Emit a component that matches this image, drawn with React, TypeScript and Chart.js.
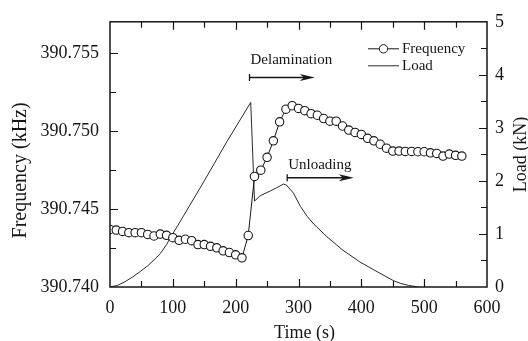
import React, { useEffect, useRef } from "react";
import { Chart, registerables } from "chart.js";

Chart.register(...registerables);

// Resonant frequency sampled every 10 s
const times = [
  0, 10, 20, 30, 40, 50, 60, 70, 80, 90, 100, 110, 120, 130, 140, 150, 160, 170, 180, 190,
  200, 210, 220, 230, 240, 250, 260, 270, 280, 290, 300, 310, 320, 330, 340, 350, 360, 370,
  380, 390, 400, 410, 420, 430, 440, 450, 460, 470, 480, 490, 500, 510, 520, 530, 540, 550, 560,
];
const frequencyKHz = [
  390.74369, 390.74365, 390.74356, 390.74348, 390.74348, 390.74348, 390.74337, 390.74327,
  390.74339, 390.74331, 390.74316, 390.74299, 390.74306, 390.74297, 390.74272, 390.74272,
  390.74261, 390.74251, 390.74232, 390.74221, 390.74206, 390.74187, 390.7433, 390.74709,
  390.74749, 390.74831, 390.74937, 390.75059, 390.7514, 390.75162, 390.75145, 390.7513,
  390.75111, 390.75101, 390.7508, 390.75063, 390.75063, 390.75032, 390.75006, 390.74991,
  390.74978, 390.74953, 390.74937, 390.74915, 390.7489, 390.74871, 390.74871, 390.74869,
  390.74869, 390.74867, 390.74867, 390.7486, 390.74856, 390.74839, 390.74852, 390.74844,
  390.74839,
];

// Applied load history
const loadTimes = [
  0, 12, 24, 36, 48, 60, 70, 80, 90, 98, 108, 117, 150, 186, 224, 230, 239, 255, 265, 276,
  281, 292, 303, 314, 324, 345, 371, 398, 425, 451, 462, 475, 488, 492,
];
const loadKN = [
  0, 0.03, 0.1, 0.19, 0.29, 0.4, 0.51, 0.63, 0.8, 0.97, 1.16, 1.34, 2.0, 2.74, 3.48, 1.62,
  1.72, 1.81, 1.87, 1.94, 1.92, 1.77, 1.52, 1.33, 1.19, 0.95, 0.69, 0.47, 0.29, 0.12, 0.07,
  0.03, 0.005, 0,
];

const timeTicks = [0, 100, 200, 300, 400, 500, 600];
const timeMinorTicks = [50, 150, 250, 350, 450, 550];
const freqTicks = [390.74, 390.745, 390.75, 390.755];
const freqMinorTicks = [390.7425, 390.7475, 390.7525];
const loadTicks = [0, 1, 2, 3, 4, 5];
const loadMinorTicks = [0.5, 1.5, 2.5, 3.5, 4.5];

const SERIF = "'Liberation Serif', 'Times New Roman', serif";
const INK = "#161616";

function drawArrow(ctx: CanvasRenderingContext2D, x1: number, x2: number, y: number) {
  ctx.save();
  ctx.strokeStyle = INK;
  ctx.fillStyle = INK;
  ctx.lineWidth = 1.3;
  ctx.beginPath();
  ctx.moveTo(x1, y - 3.5);
  ctx.lineTo(x1, y + 3.5);
  ctx.moveTo(x1, y);
  ctx.lineTo(x2 - 8, y);
  ctx.stroke();
  ctx.beginPath();
  ctx.moveTo(x2, y);
  ctx.lineTo(x2 - 15, y - 3.5);
  ctx.lineTo(x2 - 11, y);
  ctx.lineTo(x2 - 15, y + 3.5);
  ctx.closePath();
  ctx.fill();
  ctx.restore();
}

const framePlugin = {
  id: "frameAndNotes",
  afterDraw(chart: any) {
    const ctx: CanvasRenderingContext2D = chart.ctx;
    const { left, right, top, bottom } = chart.chartArea;
    const xs = chart.scales.x;
    const ys = chart.scales.y;
    const y2 = chart.scales.y2;
    const major = 8;
    const minor = 6;

    ctx.save();
    ctx.strokeStyle = INK;
    ctx.lineWidth = 1.5;
    ctx.strokeRect(left, top, right - left, bottom - top);

    ctx.lineWidth = 1.2;
    ctx.beginPath();
    const xTick = (v: number, len: number) => {
      const px = Math.round(xs.getPixelForValue(v)) + 0.5;
      ctx.moveTo(px, bottom);
      ctx.lineTo(px, bottom - len);
      ctx.moveTo(px, top);
      ctx.lineTo(px, top + len);
    };
    timeTicks.slice(1, -1).forEach((v) => xTick(v, major));
    timeMinorTicks.forEach((v) => xTick(v, minor));
    const leftTick = (v: number, len: number) => {
      const py = Math.round(ys.getPixelForValue(v)) + 0.5;
      ctx.moveTo(left, py);
      ctx.lineTo(left + len, py);
    };
    freqTicks.slice(1).forEach((v) => leftTick(v, major));
    freqMinorTicks.forEach((v) => leftTick(v, minor));
    const rightTick = (v: number, len: number) => {
      const py = Math.round(y2.getPixelForValue(v)) + 0.5;
      ctx.moveTo(right, py);
      ctx.lineTo(right - len, py);
    };
    loadTicks.slice(1, -1).forEach((v) => rightTick(v, major));
    loadMinorTicks.forEach((v) => rightTick(v, minor));
    ctx.stroke();

    // axis titles
    ctx.fillStyle = INK;
    ctx.textAlign = "center";
    ctx.textBaseline = "middle";
    ctx.font = `18px ${SERIF}`;
    ctx.fillText("Time (s)", (left + right) / 2 + 6, bottom + 46);

    ctx.save();
    ctx.translate(21, (top + bottom) / 2 + 16);
    ctx.rotate(-Math.PI / 2);
    ctx.font = `20px ${SERIF}`;
    ctx.fillText("Frequency (kHz)", 0, 0);
    ctx.restore();

    ctx.save();
    ctx.translate(521, (top + bottom) / 2);
    ctx.rotate(-Math.PI / 2);
    ctx.font = `18px ${SERIF}`;
    ctx.fillText("Load (kN)", 0, 0);
    ctx.restore();

    // annotations
    ctx.font = `15px ${SERIF}`;
    ctx.textAlign = "left";
    const dx1 = xs.getPixelForValue(222);
    ctx.fillText("Delamination", dx1 + 1, y2.getPixelForValue(4.28));
    drawArrow(ctx, dx1, xs.getPixelForValue(326), y2.getPixelForValue(3.95));
    const ux1 = xs.getPixelForValue(282);
    ctx.fillText("Unloading", ux1 + 1, y2.getPixelForValue(2.29));
    drawArrow(ctx, ux1, xs.getPixelForValue(388), y2.getPixelForValue(2.06));

    // legend
    const lx1 = right - 119;
    const lx2 = right - 88;
    const ly1 = top + 27;
    const ly2 = top + 44;
    ctx.lineWidth = 1;
    ctx.strokeStyle = INK;
    ctx.beginPath();
    ctx.moveTo(lx1, ly1);
    ctx.lineTo(lx2, ly1);
    ctx.stroke();
    ctx.beginPath();
    ctx.arc((lx1 + lx2) / 2, ly1, 4.2, 0, Math.PI * 2);
    ctx.fillStyle = "#fff";
    ctx.fill();
    ctx.stroke();
    ctx.strokeStyle = "#2a2a2a";
    ctx.beginPath();
    ctx.moveTo(lx1, ly2);
    ctx.lineTo(lx2, ly2);
    ctx.stroke();
    ctx.fillStyle = INK;
    ctx.fillText("Frequency", lx2 + 3, ly1);
    ctx.fillText("Load", lx2 + 3, ly2);
    ctx.restore();
  },
};

export default function App() {
  const canvasRef = useRef<HTMLCanvasElement | null>(null);

  useEffect(() => {
    const canvas = canvasRef.current;
    if (!canvas) return;
    const tickFont = { family: SERIF, size: 18 };
    const chart = new Chart(canvas, {
      type: "line",
      data: {
        datasets: [
          {
            label: "Frequency",
            data: times.map((t, i) => ({ x: t, y: frequencyKHz[i] })),
            yAxisID: "y",
            borderColor: INK,
            borderWidth: 1,
            pointRadius: 4.2,
            pointBackgroundColor: "#ffffff",
            pointBorderColor: INK,
            pointBorderWidth: 1.1,
            tension: 0,
          },
          {
            label: "Load",
            data: loadTimes.map((t, i) => ({ x: t, y: loadKN[i] })),
            yAxisID: "y2",
            borderColor: "#2a2a2a",
            borderWidth: 1,
            pointRadius: 0,
            tension: 0,
          },
        ],
      },
      options: {
        responsive: false,
        devicePixelRatio: 1,
        animation: false,
        layout: { padding: { top: 18, left: 0, right: 0, bottom: 0 } },
        plugins: { legend: { display: false }, tooltip: { enabled: false } },
        scales: {
          x: {
            type: "linear",
            min: 0,
            max: 600,
            afterBuildTicks: (s: any) => {
              s.ticks = timeTicks.map((v) => ({ value: v }));
            },
            afterFit: (s: any) => {
              s.height = 54;
            },
            grid: { display: false, drawTicks: false },
            border: { display: false },
            ticks: { font: tickFont, color: INK, padding: 10, maxRotation: 0, autoSkip: false },
          },
          y: {
            type: "linear",
            position: "left",
            min: 390.74,
            max: 390.757,
            afterBuildTicks: (s: any) => {
              s.ticks = freqTicks.map((v) => ({ value: v }));
            },
            afterFit: (s: any) => {
              s.width = 110;
            },
            grid: { display: false, drawTicks: false },
            border: { display: false },
            ticks: {
              font: tickFont,
              color: INK,
              padding: 11,
              callback: (v: any) => Number(v).toFixed(3),
            },
          },
          y2: {
            type: "linear",
            position: "right",
            min: 0,
            max: 5,
            afterBuildTicks: (s: any) => {
              s.ticks = loadTicks.map((v) => ({ value: v }));
            },
            afterFit: (s: any) => {
              s.width = 41;
            },
            grid: { display: false, drawTicks: false },
            border: { display: false },
            ticks: { font: tickFont, color: INK, padding: 8 },
          },
        },
      },
      plugins: [framePlugin],
    });
    return () => chart.destroy();
  }, []);

  return (
    <div style={{ position: "fixed", left: 0, top: 0, width: 528, height: 341, background: "#fff" }}>
      <canvas ref={canvasRef} width={528} height={341} />
    </div>
  );
}
